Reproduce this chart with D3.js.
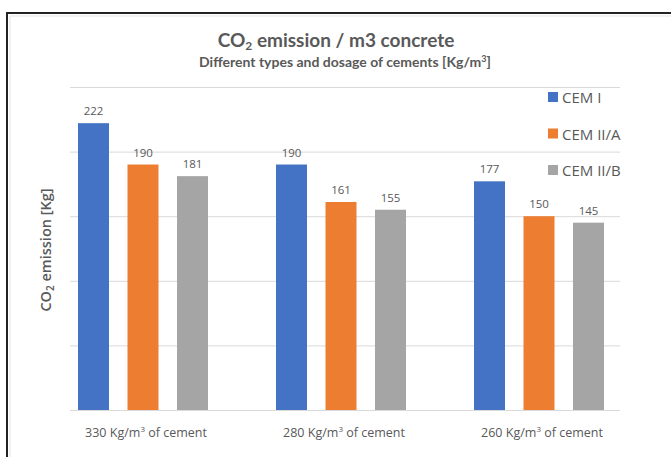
<!DOCTYPE html>
<html>
<head>
<meta charset="utf-8">
<script src="https://cdn.jsdelivr.net/npm/d3@7"></script>
<style>
  html, body { margin: 0; padding: 0; background: #fff; }
  svg { display: block; }
  text { font-family: "Open Sans", "Noto Sans", sans-serif; fill: #595959; }
</style>
</head>
<body>
<svg id="chart" width="671" height="457"></svg>
<script>
const categories = ["330", "280", "260"];
const seriesNames = ["CEM I", "CEM II/A", "CEM II/B"];
const cemI   = [222, 190, 177];
const cemIIA = [190, 161, 150];
const cemIIB = [181, 155, 145];
const yTicks = [0, 50, 100, 150, 200, 250];
const colors = ["#4472C4", "#ED7D31", "#A5A5A5"];

const seriesValues = [cemI, cemIIA, cemIIB];
const svg = d3.select("#chart");

// frame
svg.append("line").attr("x1", 7).attr("y1", 13).attr("x2", 671).attr("y2", 13)
  .attr("stroke", "#222").attr("stroke-width", 2);
svg.append("line").attr("x1", 7).attr("y1", 12).attr("x2", 7).attr("y2", 457)
  .attr("stroke", "#222").attr("stroke-width", 2);
svg.append("line").attr("x1", 10).attr("y1", 16).attr("x2", 671).attr("y2", 16)
  .attr("stroke", "#ececec").attr("stroke-width", 1.5);
svg.append("line").attr("x1", 10).attr("y1", 16).attr("x2", 10).attr("y2", 457)
  .attr("stroke", "#ececec").attr("stroke-width", 1.5);

const y = d3.scaleLinear().domain([0, 250]).range([410, 87]);
const x0 = d3.scaleBand().domain(categories).range([44, 638]).padding(0);
const x1 = d3.scaleBand().domain(seriesNames).range([34, 164]).paddingInner(0.374).paddingOuter(0);

// gridlines
svg.append("g").selectAll("line").data(yTicks).join("line")
  .attr("x1", 70).attr("x2", 620)
  .attr("y1", d => y(d) + 0.5).attr("y2", d => y(d) + 0.5)
  .attr("stroke", "#d9d9d9").attr("stroke-width", 1);

// bars
const groups = svg.append("g").selectAll("g").data(categories).join("g")
  .attr("transform", c => `translate(${x0(c)},0)`);

groups.each(function(c, ci) {
  const g = d3.select(this);
  seriesNames.forEach((s, si) => {
    const v = seriesValues[si][ci];
    g.append("rect")
      .attr("x", x1(s)).attr("width", x1.bandwidth())
      .attr("y", y(v)).attr("height", y(0) - y(v))
      .attr("fill", colors[si]);
    g.append("text")
      .attr("x", x1(s) + x1.bandwidth() / 2).attr("y", y(v) - 8)
      .attr("text-anchor", "middle").attr("font-size", 11.5)
      .text(v);
  });
});

// category labels
const catLabels = svg.append("g").selectAll("text").data(categories).join("text")
  .attr("x", c => x0(c) + x0.bandwidth() / 2 + 3)
  .attr("y", 437)
  .attr("text-anchor", "middle").attr("font-size", 12.5);
catLabels.append("tspan").text(c => c + " Kg/m");
catLabels.append("tspan").attr("font-size", 8).attr("dy", -5).text("3");
catLabels.append("tspan").attr("dy", 5).text(" of cement");

// title
const title = svg.append("text").attr("x", 336).attr("y", 47)
  .attr("text-anchor", "middle").attr("font-size", 19)
  .style("font-family", "Lato, 'Open Sans', sans-serif").attr("font-weight", 700);
title.append("tspan").text("CO");
title.append("tspan").attr("font-size", 12).attr("dy", 3).text("2");
title.append("tspan").attr("dy", -3).text(" emission / m3 concrete");

const sub = svg.append("text").attr("x", 345).attr("y", 67)
  .attr("text-anchor", "middle").attr("font-size", 14)
  .style("font-family", "Lato, 'Open Sans', sans-serif").attr("font-weight", 700);
sub.append("tspan").text("Different types and dosage of cements [Kg/m");
sub.append("tspan").attr("font-size", 9).attr("dy", -5).text("3");
sub.append("tspan").attr("dy", 5).text("]");

// y axis title
const yt = svg.append("text")
  .attr("transform", "translate(51,250) rotate(-90)")
  .attr("text-anchor", "middle").attr("font-size", 14.5).attr("font-weight", 600);
yt.append("tspan").text("CO");
yt.append("tspan").attr("font-size", 10).attr("dy", 3).text("2");
yt.append("tspan").attr("dy", -3).text(" emission [Kg]");

// legend
const legend = svg.append("g").selectAll("g").data(seriesNames).join("g")
  .attr("transform", (d, i) => `translate(548,${97 + i * 36.5})`);
legend.append("rect").attr("x", 0).attr("y", -5).attr("width", 10).attr("height", 10)
  .attr("fill", (d, i) => colors[i]);
legend.append("text").attr("x", 14).attr("y", 6).attr("font-size", 15).text(d => d);
</script>
</body>
</html>
